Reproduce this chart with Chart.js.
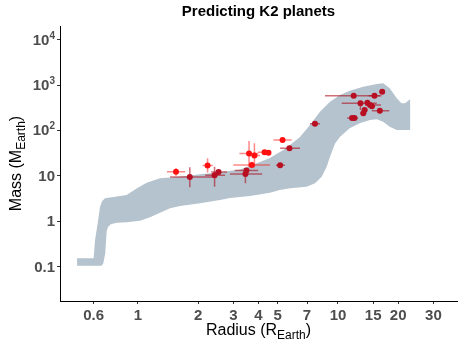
<!DOCTYPE html>
<html>
<head>
<meta charset="utf-8">
<script src="https://cdn.jsdelivr.net/npm/chart.js"></script>
<style>
  body { margin: 0; background: #fff; }
  canvas { display: block; }
</style>
</head>
<body>
<canvas id="c" width="463" height="348"></canvas>
<script>
// axis ticks
const xTicks = [0.6, 1, 2, 3, 4, 5, 7, 10, 15, 20, 30];
const yTicks = [0.1, 1, 10, 100, 1000, 10000];
const yTickBase = ['0.1', '1', '10', '10', '10', '10'];
const yTickExp = ['', '', '', '2', '3', '4'];

// predicted band: upper edge and lower edge, left to right
const bandUpperR = [0.496, 0.600, 0.610, 0.629, 0.646, 0.661, 0.684, 0.767, 0.878, 0.989, 1.105, 1.289, 1.621, 2.043, 2.570, 3.237, 3.842, 4.566, 5.430, 6.458, 7.243, 8.127, 9.119, 10.24, 11.44, 13.38, 15.63, 16.82, 18.15, 19.67, 20.76, 21.64, 22.95];
const bandUpperM = [0.153, 0.153, 0.387, 0.917, 2.10, 2.75, 3.21, 3.48, 3.80, 5.33, 7.08, 8.85, 9.6, 10.8, 12.0, 13.8, 18.3, 24.8, 39.1, 71.9, 132, 259, 431, 605, 753, 922, 1057, 1096, 850, 512, 397, 397, 487];
const bandLowerR = [0.496, 0.659, 0.671, 0.686, 0.697, 0.708, 0.731, 0.782, 0.878, 1.023, 1.148, 1.289, 1.447, 1.621, 2.043, 2.570, 2.882, 3.633, 4.566, 5.124, 5.758, 6.966, 7.669, 8.288, 8.780, 9.119, 9.666, 10.24, 11.44, 12.84, 14.45, 15.63, 16.82, 18.15, 19.67, 22.95];
const bandLowerM = [0.105, 0.105, 0.119, 0.197, 0.600, 0.745, 0.860, 0.93, 0.95, 1.03, 1.22, 1.55, 1.93, 2.17, 2.49, 2.95, 3.26, 3.61, 4.27, 4.89, 5.33, 5.78, 6.87, 9.6, 15.9, 26.5, 52, 73, 112, 144, 170, 177, 156, 121, 103, 103];

// bright red planets
const brightR   = [1.549, 2.228, 3.591, 3.821, 3.706, 4.293, 4.492, 5.283];
const brightM   = [12.4, 16.9, 31.1, 28.1, 17.4, 33.3, 32.4, 61.8];
const brightRLo = [1.396, 2.104, 3.215, 3.591, 2.996, 3.978, 4.355, 4.756];
const brightRHi = [1.723, 2.363, 3.999, 4.073, 4.566, 4.460, 4.618, 5.863];
const brightMLo = [10.1, 11.8, 15.9, 15.5, 14.9, 30, 30, 56];
const brightMHi = [14.7, 24.4, 58.7, 52.2, 20.4, 37, 35, 68];

// dark red planets
const darkR   = [1.816, 2.415, 2.529, 3.445, 3.486, 5.135, 5.716, 7.669, 11.98, 15.22, 16.63, 12.95, 14.03, 14.45, 14.78, 13.59, 13.38, 16.19, 11.76, 12.09];
const darkM   = [9.46, 10.3, 12.2, 11.0, 13.2, 17.2, 40.8, 140, 584, 584, 716, 397, 410, 365, 341, 283, 239, 273, 188, 188];
const darkRLo = [1.447, 2.166, 2.322, 2.882, 3.048, 4.892, 5.135, 7.243, 8.608, 14.24, 16.19, 10.44, 13.59, 13.70, 14.24, 13.16, 12.95, 14.78, 11.12, 11.55];
const darkRHi = [2.477, 2.725, 2.788, 4.178, 3.989, 5.430, 6.458, 8.127, 16.50, 16.19, 17.17, 15.63, 14.45, 16.41, 15.33, 14.03, 13.81, 18.04, 12.30, 12.62];
const darkMLo = [5.61, 5.78, 11.0, 6.87, 11.5, 15.5, 38, 130, 560, 560, 690, 282, 380, 340, 320, 265, 225, 260, 180, 180];
const darkMHi = [15.5, 15.9, 13.5, 14.7, 15.0, 19.0, 44, 150, 610, 610, 740, 420, 440, 390, 360, 300, 255, 285, 196, 196];

const FONT = '"Liberation Sans", Arial, sans-serif';
const toPts = (rs, ms) => rs.map((r, i) => ({ x: r, y: ms[i] }));
const bandOutline = toPts(bandUpperR, bandUpperM)
  .concat(toPts(bandLowerR, bandLowerM).reverse());

const errSeries = [
  { r: brightR, m: brightM, rLo: brightRLo, rHi: brightRHi, mLo: brightMLo, mHi: brightMHi, color: 'rgba(255, 20, 20, 0.5)' },
  { r: darkR, m: darkM, rLo: darkRLo, rHi: darkRHi, mLo: darkMLo, mHi: darkMHi, color: 'rgba(175, 15, 30, 0.6)' }
];

// error bars drawn right after the band, below the points
const errorBars = {
  id: 'errorBars',
  afterDatasetDraw(chart, args) {
    if (args.index !== 0) return;
    const { ctx, scales: { x, y } } = chart;
    ctx.save();
    ctx.lineWidth = 1.5;
    errSeries.forEach(s => {
      ctx.strokeStyle = s.color;
      s.r.forEach((r, i) => {
        const px = x.getPixelForValue(r), py = y.getPixelForValue(s.m[i]);
        ctx.beginPath();
        ctx.moveTo(x.getPixelForValue(s.rLo[i]), py);
        ctx.lineTo(x.getPixelForValue(s.rHi[i]), py);
        ctx.moveTo(px, y.getPixelForValue(s.mLo[i]));
        ctx.lineTo(px, y.getPixelForValue(s.mHi[i]));
        ctx.stroke();
      });
    });
    ctx.restore();
  }
};

// text with a subscript part, centred on cx
function drawSubText(ctx, parts, cx, cy, size) {
  const f = p => (p.sub ? Math.round(size * 0.72) : size) + 'px ' + FONT;
  let w = 0;
  parts.forEach(p => { ctx.font = f(p); w += ctx.measureText(p.t).width; });
  let xPos = cx - w / 2;
  parts.forEach(p => {
    ctx.font = f(p);
    ctx.fillText(p.t, xPos, cy + (p.sub ? size * 0.25 : 0));
    xPos += ctx.measureText(p.t).width;
  });
}

const labels = {
  id: 'labels',
  afterDraw(chart) {
    const { ctx, chartArea: a, scales: { y } } = chart;
    const cx = (a.left + a.right) / 2;
    ctx.save();
    ctx.textBaseline = 'alphabetic';

    // y tick labels with real superscripts
    ctx.fillStyle = '#4d4d4d';
    ctx.textAlign = 'right';
    yTicks.forEach((v, i) => {
      const py = y.getPixelForValue(v) + 5;
      let right = a.left - 5;
      if (yTickExp[i]) {
        ctx.font = 'bold 10px ' + FONT;
        ctx.fillText(yTickExp[i], right, py - 6);
        right -= ctx.measureText(yTickExp[i]).width;
      }
      ctx.font = 'bold 15px ' + FONT;
      ctx.fillText(yTickBase[i], right, py);
    });

    ctx.fillStyle = '#000';
    ctx.textAlign = 'center';
    ctx.font = 'bold 15px ' + FONT;
    ctx.fillText('Predicting K2 planets', cx, 16);
    ctx.textAlign = 'left';
    drawSubText(ctx, [{ t: 'Radius (R' }, { t: 'Earth', sub: true }, { t: ')' }], cx, 335, 16);
    ctx.translate(21, (a.top + a.bottom) / 2);
    ctx.rotate(-Math.PI / 2);
    drawSubText(ctx, [{ t: 'Mass (M' }, { t: 'Earth', sub: true }, { t: ')' }], 0, 0, 16);
    ctx.restore();
  }
};

new Chart(document.getElementById('c'), {
  type: 'scatter',
  data: {
    datasets: [
      {
        data: bandOutline,
        showLine: true,
        fill: 'shape',
        backgroundColor: 'rgb(180, 195, 206)',
        borderWidth: 0,
        borderColor: 'rgba(0,0,0,0)',
        pointRadius: 0,
        tension: 0,
        order: 3
      },
      {
        data: toPts(brightR, brightM),
        backgroundColor: '#ff1010',
        pointRadius: 3,
        borderWidth: 0,
        order: 2
      },
      {
        data: toPts(darkR, darkM),
        backgroundColor: '#b80f22',
        pointRadius: 3,
        borderWidth: 0,
        order: 1
      }
    ]
  },
  options: {
    responsive: false,
    animation: false,
    layout: { padding: { left: 0, right: 6, top: 26, bottom: 0 } },
    plugins: {
      legend: { display: false },
      tooltip: { enabled: false }
    },
    scales: {
      x: {
        type: 'logarithmic',
        min: 0.4074,
        max: 39.36,
        afterBuildTicks: s => { s.ticks = xTicks.map(v => ({ value: v })); },
        afterFit: s => { s.height = 47; },
        border: { display: true, color: '#000', width: 1 },
        grid: { drawOnChartArea: false, drawTicks: true, tickLength: 3, color: '#333' },
        ticks: {
          autoSkip: false,
          maxRotation: 0,
          padding: 3,
          color: '#4d4d4d',
          font: { family: FONT, size: 15, weight: 'bold' },
          callback: v => String(v)
        }
      },
      y: {
        type: 'logarithmic',
        min: 0.01756,
        max: 20000,
        afterBuildTicks: s => { s.ticks = yTicks.map(v => ({ value: v })); },
        afterFit: s => { s.width = 60; },
        border: { display: true, color: '#000', width: 1 },
        grid: { drawOnChartArea: false, drawTicks: true, tickLength: 3, color: '#333' },
        ticks: { color: 'rgba(0,0,0,0)', callback: () => '' }
      }
    }
  },
  plugins: [errorBars, labels]
});
</script>
</body>
</html>
